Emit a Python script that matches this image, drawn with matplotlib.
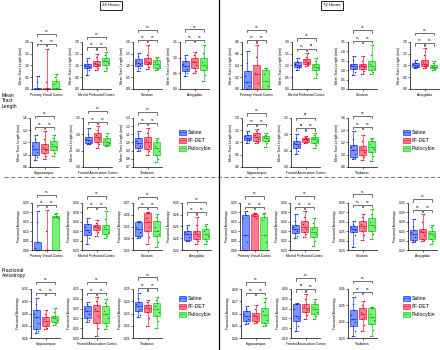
import matplotlib.pyplot as plt
import numpy as np
from matplotlib.ticker import MultipleLocator, FormatStrFormatter
from matplotlib.lines import Line2D
from matplotlib.patches import Rectangle

plt.rcParams['font.family'] = ['Liberation Sans', 'DejaVu Sans']

regions = ["Primary Visual Cortex", "Medial Prefrontal Cortex", "Striatum", "Amygdala",
           "Hippocampus", "Frontal Association Cortex", "Thalamus"]
groups = ["Saline", "6F-DET", "Psilocybin"]

# ---- Mean tract length, 24 h ----
mtl24_saline = [
    [0, 0, 0, 0, 0, 0.02, 0.05, 0.3, 0.55],
    [0.6, 0.8, 0.88, 0.92, 0.97, 1.0, 1.05, 1.2, 1.32],
    [0.75, 0.9, 0.98, 1.05, 1.1, 1.2, 1.28, 1.4, 1.55],
    [0.42, 0.5, 0.56, 0.65, 0.72, 0.8, 0.88, 1.0, 1.1],
    [0.92, 0.96, 1.0, 1.05, 1.1, 1.15, 1.2, 1.25, 1.32],
    [0.70, 0.71, 0.73, 0.78, 0.82, 0.86, 0.92, 1.0, 1.18],
    [0.89, 0.91, 0.93, 0.96, 0.99, 1.02, 1.06, 1.1, 1.14]]
mtl24_det = [
    [0, 0, 0, 0, 0, 0, 0.03, 0.3, 1.72],
    [0.82, 0.9, 0.97, 1.02, 1.07, 1.12, 1.2, 1.35, 1.5],
    [0.85, 0.95, 1.05, 1.1, 1.17, 1.22, 1.3, 1.45, 1.88],
    [0.52, 0.58, 0.66, 0.75, 0.85, 0.9, 0.98, 1.08, 1.19],
    [0.93, 0.98, 1.03, 1.07, 1.1, 1.13, 1.17, 1.25, 1.38],
    [0.58, 0.7, 0.78, 0.85, 0.93, 0.98, 1.04, 1.12, 1.24],
    [0.85, 0.89, 0.92, 0.96, 1.0, 1.03, 1.07, 1.12, 1.18]]
mtl24_psilo = [
    [0, 0, 0, 0.02, 0.05, 0.2, 0.35, 0.5, 0.65],
    [0.75, 0.9, 1.02, 1.1, 1.18, 1.25, 1.33, 1.45, 1.58],
    [0.82, 0.86, 0.9, 0.98, 1.05, 1.15, 1.25, 1.32, 1.38],
    [0.24, 0.45, 0.6, 0.7, 0.77, 0.85, 0.98, 1.15, 1.42],
    [0.98, 1.03, 1.08, 1.12, 1.15, 1.18, 1.22, 1.28, 1.33],
    [0.63, 0.66, 0.68, 0.73, 0.78, 0.82, 0.88, 0.95, 1.04],
    [0.76, 0.8, 0.85, 0.89, 0.93, 0.96, 1.0, 1.03, 1.05]]

# ---- Mean tract length, 72 h ----
mtl72_saline = [
    [0, 0, 0, 0.05, 0.12, 0.22, 0.3, 0.45, 0.64],
    [0.82, 0.9, 0.95, 0.98, 1.02, 1.08, 1.13, 1.2, 1.3],
    [0.72, 0.9, 1.05, 1.12, 1.2, 1.28, 1.35, 1.55, 1.78],
    [0.88, 0.92, 0.95, 0.99, 1.03, 1.07, 1.1, 1.15, 1.22],
    [0.97, 1.05, 1.1, 1.15, 1.2, 1.25, 1.31, 1.4, 1.48],
    [0.41, 0.5, 0.57, 0.63, 0.69, 0.74, 0.8, 0.9, 1.0],
    [0.93, 0.95, 0.97, 1.02, 1.08, 1.12, 1.16, 1.25, 1.38]]
mtl72_det = [
    [0, 0, 0, 0.1, 0.25, 0.28, 0.41, 0.55, 0.75],
    [0.97, 1.02, 1.08, 1.12, 1.17, 1.22, 1.28, 1.35, 1.52],
    [0.78, 0.95, 1.08, 1.15, 1.2, 1.28, 1.35, 1.5, 1.75],
    [0.88, 0.93, 0.97, 1.02, 1.08, 1.15, 1.25, 1.45, 1.75],
    [0.97, 1.0, 1.06, 1.15, 1.24, 1.3, 1.38, 1.45, 1.56],
    [0.74, 0.76, 0.78, 0.82, 0.85, 0.87, 0.9, 0.93, 0.96],
    [0.92, 0.96, 1.0, 1.04, 1.08, 1.11, 1.15, 1.22, 1.33]]
mtl72_psilo = [
    [0, 0, 0, 0.05, 0.13, 0.25, 0.33, 0.35, 0.36],
    [0.45, 0.65, 0.8, 0.88, 0.95, 1.0, 1.08, 1.2, 1.3],
    [0.82, 0.92, 1.02, 1.1, 1.2, 1.35, 1.5, 1.8, 2.32],
    [0.82, 0.85, 0.88, 0.92, 0.95, 0.99, 1.03, 1.1, 1.18],
    [0.83, 0.98, 1.06, 1.12, 1.17, 1.22, 1.28, 1.32, 1.38],
    [0.57, 0.68, 0.74, 0.8, 0.86, 0.9, 0.93, 0.98, 1.03],
    [0.89, 0.98, 1.05, 1.09, 1.13, 1.17, 1.22, 1.25, 1.27]]

# ---- Fractional anisotropy, 24 h ----
fa24_saline = [
    [0, 0, 0, 0, 0, 0.01, 0.045, 0.15, 0.21],
    [0.213, 0.225, 0.232, 0.238, 0.243, 0.25, 0.256, 0.262, 0.269],
    [0.2405, 0.241, 0.2418, 0.245, 0.2475, 0.25, 0.2535, 0.254, 0.2545],
    [0.235, 0.236, 0.2365, 0.242, 0.2465, 0.25, 0.253, 0.258, 0.263],
    [0.248, 0.251, 0.254, 0.265, 0.274, 0.28, 0.286, 0.295, 0.306],
    [0.2162, 0.218, 0.2207, 0.224, 0.2276, 0.23, 0.2328, 0.235, 0.2369],
    [0.2269, 0.229, 0.2317, 0.234, 0.2362, 0.238, 0.2396, 0.243, 0.2466]]
fa24_det = [
    [0, 0, 0, 0, 0, 0, 0, 0.1, 0.215],
    [0.23, 0.238, 0.243, 0.246, 0.249, 0.251, 0.254, 0.258, 0.264],
    [0.2355, 0.241, 0.2465, 0.25, 0.2535, 0.257, 0.2617, 0.262, 0.2625],
    [0.231, 0.235, 0.239, 0.244, 0.2476, 0.25, 0.253, 0.262, 0.276],
    [0.254, 0.256, 0.259, 0.263, 0.267, 0.271, 0.275, 0.28, 0.285],
    [0.2017, 0.21, 0.2155, 0.222, 0.2276, 0.23, 0.2334, 0.238, 0.2414],
    [0.2199, 0.226, 0.2311, 0.233, 0.2345, 0.236, 0.2373, 0.239, 0.241]]
fa24_psilo = [
    [0, 0, 0, 0.17, 0.175, 0.177, 0.18, 0.19, 0.197],
    [0.225, 0.23, 0.234, 0.239, 0.244, 0.248, 0.254, 0.265, 0.282],
    [0.2328, 0.237, 0.2416, 0.244, 0.2465, 0.25, 0.2548, 0.258, 0.2603],
    [0.231, 0.235, 0.239, 0.244, 0.2476, 0.252, 0.2559, 0.26, 0.264],
    [0.262, 0.264, 0.266, 0.269, 0.272, 0.274, 0.276, 0.282, 0.289],
    [0.2093, 0.212, 0.2155, 0.22, 0.2241, 0.228, 0.2328, 0.236, 0.2397],
    [0.2185, 0.224, 0.2283, 0.231, 0.2334, 0.236, 0.2382, 0.241, 0.2438]]

# ---- Fractional anisotropy, 72 h ----
fa72_saline = [
    [0, 0, 0, 0.04, 0.08, 0.17, 0.185, 0.195, 0.205],
    [0.225, 0.23, 0.2357, 0.24, 0.2443, 0.248, 0.2536, 0.262, 0.2771],
    [0.2334, 0.246, 0.249, 0.251, 0.2524, 0.254, 0.2559, 0.258, 0.261],
    [0.2372, 0.239, 0.2407, 0.247, 0.2531, 0.258, 0.2628, 0.272, 0.2855],
    [0.2514, 0.2525, 0.2536, 0.2555, 0.2577, 0.26, 0.2618, 0.264, 0.2658],
    [0.1969, 0.202, 0.2072, 0.21, 0.2124, 0.22, 0.2245, 0.225, 0.2255],
    [0.2311, 0.234, 0.2374, 0.24, 0.2416, 0.244, 0.2469, 0.251, 0.2554]]
fa72_det = [
    [0, 0, 0, 0.17, 0.18, 0.185, 0.193, 0.196, 0.198],
    [0.2286, 0.234, 0.2393, 0.245, 0.25, 0.255, 0.2607, 0.27, 0.282],
    [0.2403, 0.246, 0.2507, 0.253, 0.2559, 0.258, 0.261, 0.265, 0.2686],
    [0.2393, 0.242, 0.2441, 0.251, 0.2579, 0.261, 0.2648, 0.28, 0.2959],
    [0.2522, 0.253, 0.2541, 0.256, 0.2577, 0.259, 0.2604, 0.264, 0.2672],
    [0.209, 0.213, 0.2166, 0.219, 0.221, 0.223, 0.2245, 0.23, 0.2348],
    [0.2342, 0.238, 0.2416, 0.243, 0.2448, 0.246, 0.2484, 0.25, 0.2526]]
fa72_psilo = [
    [0, 0, 0, 0.04, 0.08, 0.16, 0.175, 0.19, 0.198],
    [0.2086, 0.22, 0.2286, 0.234, 0.2393, 0.244, 0.2486, 0.258, 0.2679],
    [0.2421, 0.247, 0.2507, 0.254, 0.2569, 0.26, 0.2638, 0.268, 0.2731],
    [0.2338, 0.239, 0.2441, 0.249, 0.2531, 0.257, 0.2614, 0.268, 0.2738],
    [0.2495, 0.251, 0.2522, 0.255, 0.2585, 0.262, 0.2645, 0.269, 0.2727],
    [0.2097, 0.212, 0.2141, 0.217, 0.2193, 0.222, 0.2245, 0.227, 0.2303],
    [0.2311, 0.235, 0.2385, 0.241, 0.2427, 0.245, 0.2484, 0.2487, 0.249]]

# y-axis (min, max, tick step) per region
mtl24_yaxis = [(0, 2, 0.5), (0, 2, 0.5), (0, 2, 0.5), (0, 1.5, 0.5), (0.8, 1.6, 0.2), (0, 1.5, 0.5), (0.7, 1.3, 0.1)]
mtl72_yaxis = [(0, 0.8, 0.2), (0, 2, 0.5), (0, 2.5, 0.5), (0, 2, 0.5), (0, 2, 0.5), (0, 1.5, 0.5), (0.8, 1.6, 0.2)]
fa24_yaxis = [(0, 0.25, 0.05), (0.2, 0.3, 0.02), (0.23, 0.27, 0.01), (0.22, 0.30, 0.02), (0.24, 0.32, 0.02), (0.20, 0.25, 0.01), (0.21, 0.25, 0.01)]
fa72_yaxis = [(0, 0.25, 0.05), (0.2, 0.3, 0.02), (0.23, 0.28, 0.01), (0.22, 0.32, 0.02), (0.24, 0.28, 0.01), (0.19, 0.24, 0.01), (0.23, 0.26, 0.01)]

# significance (saline vs 6F-DET, 6F-DET vs psilocybin, saline vs psilocybin)
all_ns = [("ns", "ns", "ns")] * 7
mtl24_sig = all_ns
fa24_sig = all_ns
mtl72_sig = [("ns", "ns", "ns"), ("ns", "*", "ns"), ("ns", "ns", "ns"), ("ns", "ns", "ns"),
             ("ns", "ns", "ns"), ("*", "ns", "*"), ("ns", "ns", "ns")]
fa72_sig = [("ns", "ns", "ns"), ("ns", "ns", "ns"), ("ns", "ns", "ns"), ("ns", "ns", "ns"),
            ("ns", "ns", "ns"), ("*", "ns", "ns"), ("ns", "ns", "ns")]

edges = ['#1a3cff', '#ff1a3c', '#18d018']
fills = ['#7d95ff', '#ff7d8f', '#7cf07c']
dots = ['#0a20c0', '#c00a25', '#0a9a0a']
jitter = np.array([-0.2, 0.15, -0.1, 0.22, 0.0, -0.22, 0.1, -0.05, 0.18])

W, H = 440, 350
fig = plt.figure(figsize=(4.4, 3.5), dpi=100)

rows_y = [(42, 89), (118, 167), (203, 250), (289, 338)]
left_x = [[32, 82, 133, 180], [30, 83, 133], [32, 82, 133, 182], [31, 82, 133]]
right_x = [[242, 292, 348, 410], [242, 291, 348], [240, 290, 348, 408], [241, 291, 348]]


def draw_panel(x0, ytop, ybot, vals, yr, sig, region, ylabel, fmt):
    ax = fig.add_axes([x0 / W, 1 - ybot / H, 29 / W, (ybot - ytop) / H])
    lo, hi, step = yr
    bp = ax.boxplot(vals, positions=[1, 2, 3], widths=0.7, whis=(0, 100),
                    patch_artist=True, showfliers=False, capwidths=0.3)
    for i in range(3):
        bp['boxes'][i].set(facecolor=fills[i], edgecolor=edges[i], linewidth=0.5)
        bp['medians'][i].set(color=edges[i], linewidth=0.5)
        for k in (2 * i, 2 * i + 1):
            bp['whiskers'][k].set(color=edges[i], linewidth=0.5)
            bp['caps'][k].set(color=edges[i], linewidth=0.5)
        ax.scatter(i + 1 + jitter, vals[i], s=1.0, color=dots[i], lw=0, zorder=3, clip_on=False)
    ax.set_xlim(0.4, 3.6)
    ax.set_ylim(lo, hi)
    ax.yaxis.set_major_locator(MultipleLocator(step))
    ax.yaxis.set_major_formatter(FormatStrFormatter(fmt))
    ax.set_xticks([2])
    ax.set_xticklabels([''])
    ax.tick_params(length=1.2, width=0.4, labelsize=2.4, pad=0.8)
    for s in ('top', 'right'):
        ax.spines[s].set_visible(False)
    for s in ('left', 'bottom'):
        ax.spines[s].set_linewidth(0.5)
    ax.set_xlabel(region, fontsize=2.4, labelpad=1)
    ax.set_ylabel(ylabel, fontsize=2.4, labelpad=1)

    R = hi - lo
    top = max(max(v) for v in vals)
    y1 = top + 0.1 * R
    y2 = y1 + 0.22 * R
    leg = 0.05 * R
    for a, b, y, lab in [(1, 1.95, y1, sig[0]), (2.05, 3, y1, sig[1]), (1, 3, y2, sig[2])]:
        ax.plot([a, a, b, b], [y - leg, y, y, y - leg], color='k', lw=0.4, clip_on=False)
        if lab == '*':
            ax.text((a + b) / 2, y, lab, ha='center', va='bottom', fontsize=4, fontweight='bold')
        else:
            ax.text((a + b) / 2, y + 0.02 * R, lab, ha='center', va='bottom', fontsize=2.3)


def draw_section(xs_rows, rows, s_list, d_list, p_list, yaxis, sig, ylabel, fmt):
    idx = 0
    for xs, (ytop, ybot) in zip(xs_rows, rows):
        for x0 in xs:
            vals = [s_list[idx], d_list[idx], p_list[idx]]
            draw_panel(x0, ytop, ybot, vals, yaxis[idx], sig[idx], regions[idx], ylabel, fmt)
            idx += 1


draw_section(left_x[:2], rows_y[:2], mtl24_saline, mtl24_det, mtl24_psilo, mtl24_yaxis, mtl24_sig,
             "Mean Tract Length (mm)", '%.1f')
draw_section(right_x[:2], rows_y[:2], mtl72_saline, mtl72_det, mtl72_psilo, mtl72_yaxis, mtl72_sig,
             "Mean Tract Length (mm)", '%.1f')
draw_section(left_x[2:], rows_y[2:], fa24_saline, fa24_det, fa24_psilo, fa24_yaxis, fa24_sig,
             "Fractional Anisotropy", '%.2f')
draw_section(right_x[2:], rows_y[2:], fa72_saline, fa72_det, fa72_psilo, fa72_yaxis, fa72_sig,
             "Fractional Anisotropy", '%.2f')

# separators
fig.add_artist(Line2D([219 / W, 219 / W], [0, 1], color='k', lw=0.9))
fig.add_artist(Line2D([4 / W, 1], [1 - 177 / H, 1 - 177 / H], color='0.35', lw=0.6, ls=(0, (5, 3))))

# time titles
for xc, txt in [(111, "24 Hours"), (332, "72 Hours")]:
    fig.text(xc / W, 1 - 5.5 / H, txt, ha='center', va='center', fontsize=3.2,
             bbox=dict(boxstyle='square,pad=0.5', fc='white', ec='k', lw=0.6))

# measure labels
fig.text(2 / W, 1 - 101 / H, "Mean\nTract\nLength", ha='left', va='center', fontsize=3.6, linespacing=1.15)
fig.text(2 / W, 1 - 273 / H, "Fractional\nAnisotropy", ha='left', va='center', fontsize=3.6, linespacing=1.15)

# legends
for lx in (179, 403):
    for ly0 in (132, 298):
        for i, g in enumerate(groups):
            ly = ly0 + i * 8.2
            fig.add_artist(Rectangle((lx / W, 1 - (ly + 2.5) / H), 7 / W, 5 / H,
                                     fc=fills[i], ec=edges[i], lw=0.5))
            fig.add_artist(Line2D([lx / W, (lx + 7) / W], [1 - ly / H, 1 - ly / H], color=edges[i], lw=0.5))
            fig.text((lx + 9) / W, 1 - ly / H, g, ha='left', va='center', fontsize=3.7)

fig.savefig("out.png", dpi=100)
